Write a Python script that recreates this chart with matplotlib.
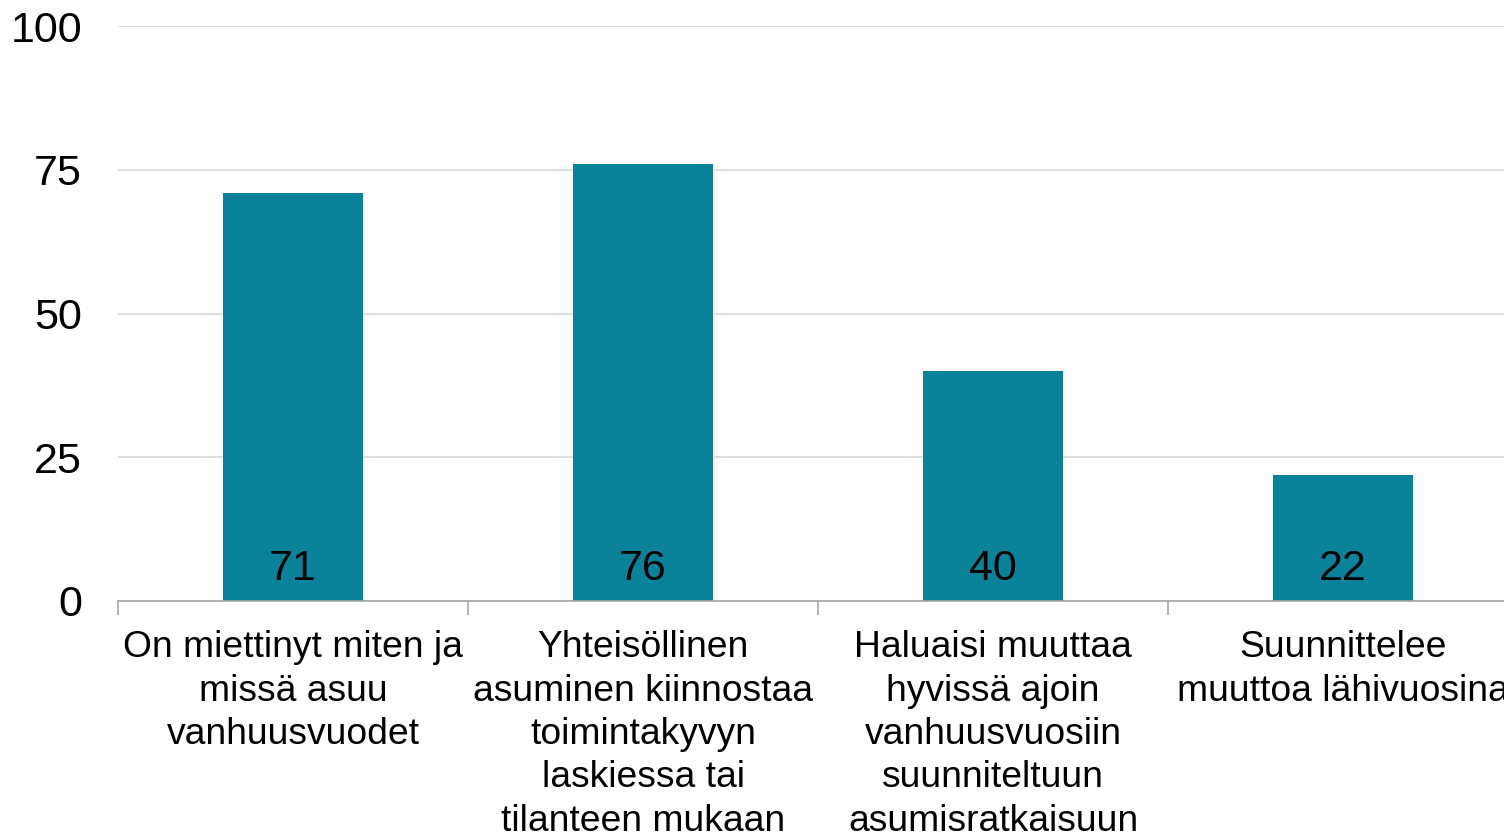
import matplotlib
matplotlib.use("Agg")
import matplotlib.pyplot as plt
import numpy as np

categories = [
    "On miettinyt miten ja\nmissä asuu\nvanhuusvuodet",
    "Yhteisöllinen\nasuminen kiinnostaa\ntoimintakyvyn\nlaskiessa tai\ntilanteen mukaan",
    "Haluaisi muuttaa\nhyvissä ajoin\nvanhuusvuosiin\nsuunniteltuun\nasumisratkaisuun",
    "Suunnittelee\nmuuttoa lähivuosina",
]
values = [71, 76, 40, 22]
value_labels = ["71", "76", "40", "22"]
yticks = [0, 25, 50, 75, 100]

plt.rcParams['font.family'] = ['Liberation Sans', 'DejaVu Sans']

fig = plt.figure(figsize=(15.04, 8.34), dpi=100)
ax = fig.add_axes([118/1504, (834-601)/834, 1400/1504, 575/834])

x = np.arange(len(categories))
bar_color = "#0A8299"
ax.bar(x, values, width=0.4, color=bar_color, zorder=3)

for xi, lab in zip(x, value_labels):
    ax.text(xi, 5.6, lab, ha="center", va="center", fontsize=31, color="black", zorder=4)

ax.set_xlim(-0.5, len(categories) - 0.5)
ax.set_ylim(0, 100)
ax.set_yticks(yticks)
ax.set_yticklabels([str(v) for v in yticks], fontsize=31)
ax.tick_params(axis="y", length=0, pad=26)
ax.yaxis.grid(True, color="#D9D9D9", linewidth=1.2, zorder=0)

ax.set_xticks(x)
ax.set_xticklabels(categories, fontsize=26.8, linespacing=1.31)
ax.tick_params(axis="x", which="major", length=0, pad=21)
ax.set_xticks(np.arange(-0.5, len(categories), 1.0), minor=True)
ax.tick_params(axis="x", which="minor", length=10, width=1.2, color="#A6A6A6")

for s in ["top", "right", "left"]:
    ax.spines[s].set_visible(False)
ax.spines["bottom"].set_color("#A6A6A6")
ax.spines["bottom"].set_linewidth(1.2)
ax.spines["bottom"].set_zorder(5)

fig.savefig("out.png", dpi=100)
